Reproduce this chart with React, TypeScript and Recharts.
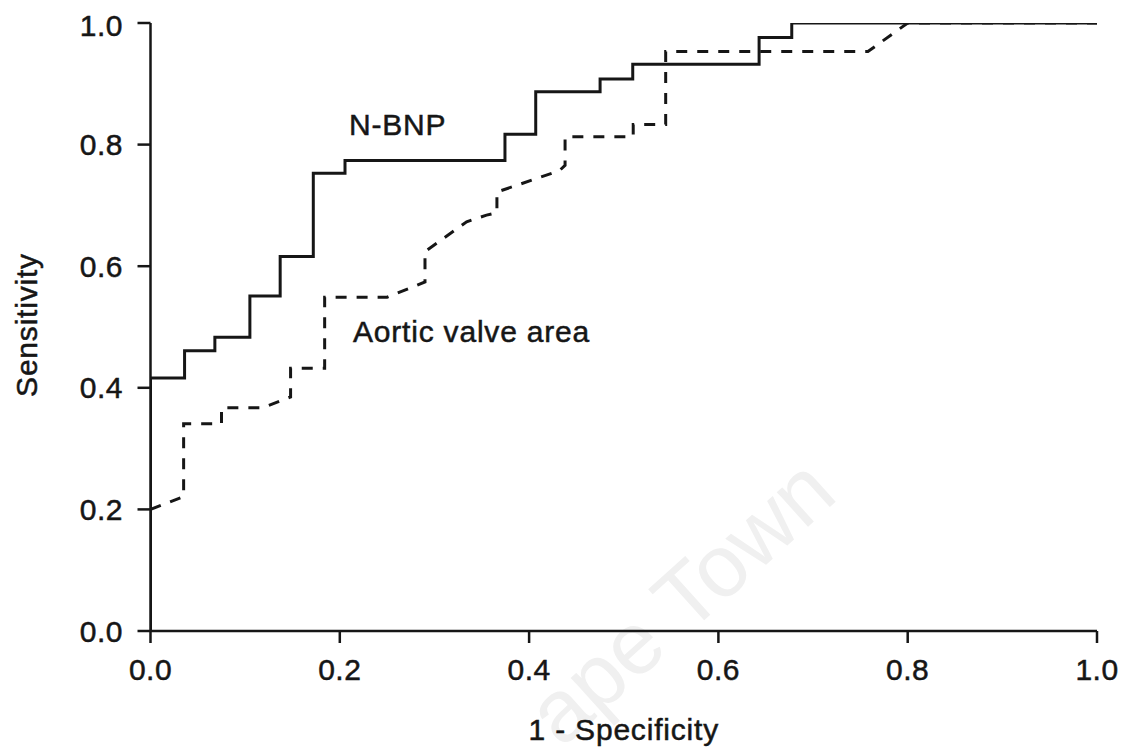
import React from 'react';
import { LineChart, Line, XAxis, YAxis } from 'recharts';

// ROC curve vertices: [1 - specificity, sensitivity]
const nbnpFpr = [0, 0, 0.036, 0.068, 0.105, 0.137, 0.172, 0.2055, 0.3745, 0.407, 0.475, 0.5095, 0.643, 0.6775, 1.0];
const nbnpTpr = [0, 0.416, 0.461, 0.483, 0.551, 0.616, 0.753, 0.774, 0.817, 0.887, 0.908, 0.932, 0.976, 1.0, 1.0];

const avaFpr = [0, 0.035, 0.035, 0.075, 0.075, 0.118, 0.148, 0.148, 0.184, 0.184, 0.25, 0.29, 0.29, 0.334, 0.355, 0.366, 0.366, 0.432, 0.438, 0.438, 0.51, 0.51, 0.5443, 0.5443, 0.758, 0.8, 1.0];
const avaTpr = [0.2, 0.221, 0.341, 0.341, 0.367, 0.367, 0.385, 0.432, 0.432, 0.549, 0.549, 0.574, 0.624, 0.673, 0.684, 0.688, 0.722, 0.757, 0.766, 0.813, 0.813, 0.833, 0.833, 0.953, 0.953, 1.0, 1.0];

const xTicks = [0, 0.2, 0.4, 0.6, 0.8, 1.0];
const yTicks = [0, 0.2, 0.4, 0.6, 0.8, 1.0];

const seriesNames = ['N-BNP', 'Aortic valve area'];
const xTitle = '1 - Specificity';
const yTitle = 'Sensitivity';
const watermark = 'ape Town';

const nbnpData = nbnpFpr.map((x, i) => ({ x, y: nbnpTpr[i] }));
const avaData = avaFpr.map((x, i) => ({ x, y: avaTpr[i] }));

const FONT = '"Liberation Sans", Arial, Helvetica, sans-serif';
const INK = '#161616';
const textStyle = { fontFamily: FONT, fontSize: 30, fill: INK, stroke: INK, strokeWidth: 0.5 };

export default function App() {
  return (
    <div style={{ width: 1122, height: 746 }}>
      <LineChart width={1122} height={746} margin={{ top: 15, right: 33, bottom: 0, left: 0 }}>
        <text
          x={832}
          y={490}
          textAnchor="end"
          transform="rotate(-42 832 490)"
          fontFamily={FONT}
          fontSize={88}
          fill="#f0f0f0"
        >
          {watermark}
        </text>
        <XAxis
          type="number"
          dataKey="x"
          domain={[0, 1]}
          ticks={xTicks}
          allowDataOverflow
          height={123}
          tickSize={12}
          tickMargin={16}
          tickFormatter={(v: number) => v.toFixed(1)}
          axisLine={{ stroke: INK, strokeWidth: 2.5 }}
          tickLine={{ stroke: INK, strokeWidth: 2.5 }}
          tick={{ ...textStyle, letterSpacing: 0.5 }}
          label={{
            content: () => (
              <text x={615.75} y={732} textAnchor="middle" letterSpacing={0.8} {...textStyle}>
                {xTitle}
              </text>
            ),
          }}
        />
        <YAxis
          type="number"
          dataKey="y"
          domain={[0, 1]}
          ticks={yTicks}
          allowDataOverflow
          width={142.5}
          tickSize={13}
          tickMargin={14.5}
          tickFormatter={(v: number) => v.toFixed(1)}
          axisLine={{ stroke: INK, strokeWidth: 2.5 }}
          tickLine={{ stroke: INK, strokeWidth: 2.5 }}
          tick={{ ...textStyle, letterSpacing: 0.5 }}
          label={{
            content: () => (
              <text
                x={18}
                y={317}
                textAnchor="middle"
                dominantBaseline="central"
                transform="rotate(-90 18 317)"
                letterSpacing={0.8}
                {...textStyle}
              >
                {yTitle}
              </text>
            ),
          }}
        />
        <Line
          data={avaData}
          dataKey="y"
          type="linear"
          stroke={INK}
          strokeWidth={3}
          strokeDasharray="11 10"
          dot={false}
          activeDot={false}
          isAnimationActive={false}
        />
        <Line
          data={nbnpData}
          dataKey="y"
          type="stepAfter"
          stroke={INK}
          strokeWidth={3}
          dot={false}
          activeDot={false}
          isAnimationActive={false}
        />
        <text x={341} y={127} letterSpacing={0.8} {...textStyle}>
          {seriesNames[0]}
        </text>
        <text x={345} y={333.7} letterSpacing={0.8} {...textStyle}>
          {seriesNames[1]}
        </text>
      </LineChart>
    </div>
  );
}
